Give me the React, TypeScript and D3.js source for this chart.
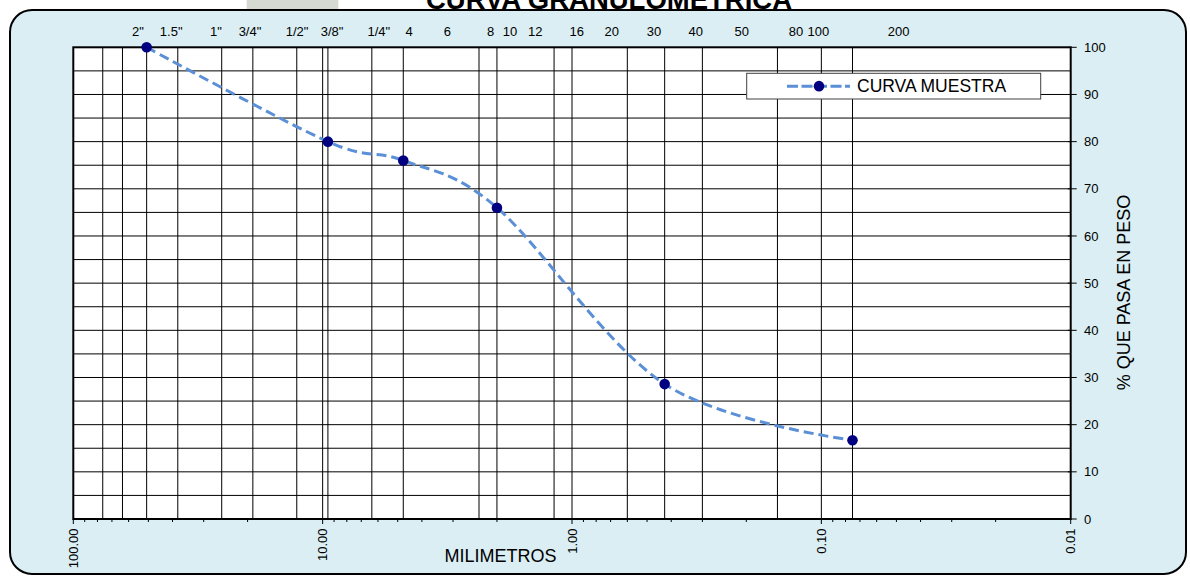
import React from "react";
import * as d3 from "d3";

// ---- data ----
const SAMPLE_MM = [50.8, 9.525, 4.75, 2.0, 0.425, 0.075];
const SAMPLE_PCT = [100, 80, 76, 66, 28.6, 16.7];
const SERIES_NAME = "CURVA MUESTRA";

// sieve openings drawn as vertical grid lines (mm)
const GRID_MM = [76.2, 63.5, 50.8, 38.1, 25.4, 19.05, 12.7, 10, 9.525, 6.35, 4.75, 2.36, 2.0, 1.18, 1.0, 0.6, 0.425, 0.3, 0.15, 0.1, 0.075];

// sieve labels along the top, with the opening (mm) at which each label sits
const TOP_LABELS = ['2"', '1.5"', '1"', '3/4"', '1/2"', '3/8"', '1/4"', "4", "6", "8", "10", "12", "16", "20", "30", "40", "50", "80", "100", "200"];
const TOP_LABEL_AT = [55.1, 40.5, 26.8, 19.56, 12.67, 9.17, 5.95, 4.5, 3.16, 2.12, 1.773, 1.404, 0.958, 0.693, 0.469, 0.3188, 0.2087, 0.1264, 0.1028, 0.049];

const X_MAJOR = [100, 10, 1, 0.1, 0.01];
const Y_TICKS = [0, 10, 20, 30, 40, 50, 60, 70, 80, 90, 100];
const Y_GRID = [5, 10, 15, 20, 25, 30, 35, 40, 45, 50, 55, 60, 65, 70, 75, 80, 85, 90, 95];

const TITLE = "CURVA GRANULOMETRICA";
const X_TITLE = "MILIMETROS";
const Y_TITLE = "% QUE PASA EN PESO";

const FONT = "'Liberation Sans', Arial, sans-serif";

export default function App() {
  const W = 1190, H = 576;
  const left = 73.3, right = 1070.7, top = 47.3, bottom = 519;
  const x = d3.scaleLog().domain([100, 0.01]).range([left, right]);
  const y = d3.scaleLinear().domain([0, 100]).range([bottom, top]);

  const pts: [number, number][] = SAMPLE_MM.map((m, i) => [x(m), y(SAMPLE_PCT[i])]);
  const line = d3.line().curve(d3.curveCardinal.tension(0))(pts) || "";

  const allTicks = x.ticks();
  const isMajor = (v: number) => Math.abs(Math.log10(v) - Math.round(Math.log10(v))) < 1e-9;

  const lineColor = "#5B8FD6";
  const markColor = "#000080";

  const legX = 746.7, legY = 73.3, legW = 294, legH = 25.7;

  return (
    <svg width={W} height={H} style={{ position: "absolute", left: 0, top: 0 }} fontFamily={FONT}>
      <rect x={0} y={0} width={W} height={H} fill="#ffffff" />
      <rect x={246.7} y={0} width={91.6} height={11} fill="#d5d9d1" />
      <rect x={10} y={10} width={1176} height={564} rx={22} ry={22} fill="#DAEEF3" stroke="#000" strokeWidth={2} />
      <text x={609} y={8.5} textAnchor="middle" fontWeight="bold" fontSize={27.5} fill="#000">{TITLE}</text>

      {/* plot area */}
      <rect x={left} y={top} width={right - left} height={bottom - top} fill="#fff" />
      {Y_GRID.map((v) => (
        <line key={"hy" + v} x1={left} x2={right} y1={y(v)} y2={y(v)} stroke="#000" strokeWidth={1} />
      ))}
      {GRID_MM.map((v) => (
        <line key={"vx" + v} x1={x(v)} x2={x(v)} y1={top} y2={bottom} stroke="#000" strokeWidth={1} />
      ))}
      <rect x={left} y={top} width={right - left} height={bottom - top} fill="none" stroke="#000" strokeWidth={2} />

      {/* bottom axis ticks */}
      {allTicks.map((v, i) => (
        <line key={"bt" + i} x1={x(v)} x2={x(v)} y1={bottom} y2={bottom + (isMajor(v) ? 5 : 3)} stroke="#000" strokeWidth={1} />
      ))}
      {X_MAJOR.map((v) => (
        <text key={"bl" + v} transform={`translate(${x(v) + 4.5},528.5) rotate(-90)`} textAnchor="end" fontSize={13} fill="#000">
          {v.toFixed(2)}
        </text>
      ))}
      <text x={500.5} y={561.5} textAnchor="middle" fontSize={18} fill="#000">{X_TITLE}</text>

      {/* right axis */}
      {Y_TICKS.map((v) => (
        <g key={"rt" + v}>
          <line x1={right - 3} x2={right + 6} y1={y(v)} y2={y(v)} stroke="#000" strokeWidth={1} />
          <text x={1084} y={y(v) + 4.6} fontSize={13} fill="#000">{v}</text>
        </g>
      ))}
      <text transform={`translate(1130,292.5) rotate(-90)`} textAnchor="middle" fontSize={18} fill="#000">{Y_TITLE}</text>

      {/* top sieve labels */}
      {TOP_LABELS.map((lab, i) => (
        <text key={"tl" + i} x={x(TOP_LABEL_AT[i])} y={36} textAnchor="middle" fontSize={13} fill="#000">{lab}</text>
      ))}

      {/* series */}
      <path d={line} fill="none" stroke={lineColor} strokeWidth={3} strokeDasharray="10 5" />
      {pts.map((p, i) => (
        <circle key={"pt" + i} cx={p[0]} cy={p[1]} r={5.3} fill={markColor} />
      ))}

      {/* legend */}
      <rect x={legX} y={legY} width={legW} height={legH} fill="#fff" stroke="#404040" strokeWidth={1} />
      <line x1={787} x2={850} y1={legY + legH / 2} y2={legY + legH / 2} stroke={lineColor} strokeWidth={3} strokeDasharray="11 3.5" />
      <circle cx={819} cy={legY + legH / 2} r={5.3} fill={markColor} />
      <text x={857} y={legY + legH / 2 + 6.2} fontSize={17.5} fill="#000">{SERIES_NAME}</text>
    </svg>
  );
}
